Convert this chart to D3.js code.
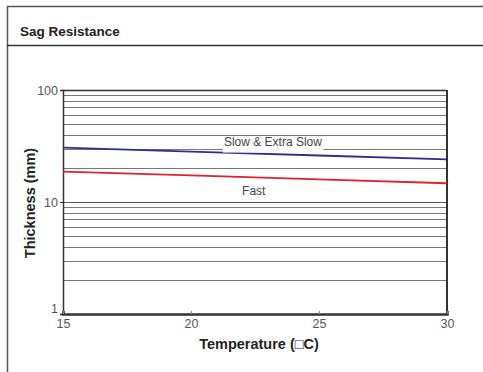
<!DOCTYPE html>
<html>
<head>
<meta charset="utf-8">
<script src="https://cdn.jsdelivr.net/npm/d3@7"></script>
<style>
body { margin: 0; background: #fff; }
svg text { font-family: "Liberation Sans", Arial, sans-serif; }
</style>
</head>
<body>
<div id="chart"></div>
<script>
// data
var temps = [15, 20, 25, 30];
var slowValues = [30.6, 28.2, 26.0, 24.0];
var fastValues = [18.7, 17.3, 15.9, 14.7];
var xTicks = [15, 20, 25, 30];
var yTicks = [1, 10, 100];
var gridValues = [2, 3, 4, 5, 6, 7, 8, 9, 20, 30, 40, 50, 60, 70, 80, 90];

var W = 483, H = 372;
var margin = {top: 90, right: 36, bottom: 57, left: 63},
    width = 447 - margin.left,
    height = 314 - margin.top;

var svg = d3.select("#chart").append("svg")
    .attr("width", W)
    .attr("height", H);

// outer frame + title bar
svg.append("path")
    .attr("d", "M7.5,372 V6.5 H483")
    .attr("fill", "none").attr("stroke", "#555").attr("stroke-width", 1.5);
svg.append("line")
    .attr("x1", 7).attr("x2", 483).attr("y1", 45.5).attr("y2", 45.5)
    .attr("stroke", "#333").attr("stroke-width", 1.5);
svg.append("text")
    .attr("x", 20).attr("y", 36)
    .attr("font-size", 13.5).attr("font-weight", "bold").attr("fill", "#222")
    .text("Sag Resistance");

var g = svg.append("g")
    .attr("transform", "translate(" + margin.left + "," + margin.top + ")");

var x = d3.scaleLinear().domain([15, 30]).range([0, width]);
var y = d3.scaleLog().domain([1, 100]).range([height, 0]);

// gridlines
g.selectAll(".grid").data(gridValues).enter().append("line")
    .attr("class", "grid")
    .attr("x1", 0).attr("x2", width)
    .attr("y1", function(d){ return Math.round(y(d)) + 0.5; })
    .attr("y2", function(d){ return Math.round(y(d)) + 0.5; })
    .attr("stroke", "#777").attr("stroke-width", 1);
g.append("line")
    .attr("x1", 0).attr("x2", width)
    .attr("y1", Math.round(y(10)) + 0.5).attr("y2", Math.round(y(10)) + 0.5)
    .attr("stroke", "#555");

// plot frame
g.append("line").attr("x1", 0).attr("x2", width).attr("y1", 0.5).attr("y2", 0.5)
    .attr("stroke", "#333").attr("stroke-width", 1.5);
g.append("line").attr("x1", width).attr("x2", width).attr("y1", 0).attr("y2", height)
    .attr("stroke", "#333").attr("stroke-width", 2);

// y axis
var yAxis = g.append("g")
    .attr("color", "#555")
    .call(d3.axisLeft(y).tickValues(yTicks).tickFormat(d3.format("d")).tickSize(3).tickPadding(2));
yAxis.select(".domain").attr("stroke", "#333").attr("stroke-width", 1.5);
yAxis.selectAll(".tick line").attr("stroke", "#333");
yAxis.selectAll("text").attr("font-size", 12.5)
    .attr("dy", function(d){ return d == 1 ? "-0.1em" : "0.32em"; });

// x axis
var xAxis = g.append("g")
    .attr("color", "#555")
    .attr("transform", "translate(0," + height + ")")
    .call(d3.axisBottom(x).tickValues(xTicks).tickSize(-3).tickPadding(5));
xAxis.select(".domain").attr("stroke", "#333").attr("stroke-width", 2.5);
xAxis.selectAll(".tick line").attr("stroke", "#888");
xAxis.selectAll("text").attr("font-size", 12.5);

// lines
var line = d3.line()
    .x(function(d, i){ return x(temps[i]); })
    .y(function(d){ return y(d); });

g.append("path").datum(slowValues)
    .attr("d", line).attr("fill", "none")
    .attr("stroke", "#2b2f8f").attr("stroke-width", 1.8);
g.append("path").datum(fastValues)
    .attr("d", line).attr("fill", "none")
    .attr("stroke", "#e0202a").attr("stroke-width", 1.8);

// series labels
var slowLbl = g.append("text")
    .attr("x", x(23.2)).attr("y", y(30) - 3)
    .attr("text-anchor", "middle")
    .attr("font-size", 12).attr("fill", "#444")
    .text("Slow & Extra Slow");
var bb = slowLbl.node().getBBox();
g.insert("rect", function(){ return slowLbl.node(); })
    .attr("x", bb.x - 1).attr("y", bb.y + 2).attr("width", bb.width + 2).attr("height", bb.height + 2)
    .attr("fill", "#fff");

g.append("text")
    .attr("x", x(22.45)).attr("y", y(11.6))
    .attr("text-anchor", "middle")
    .attr("font-size", 12).attr("fill", "#444")
    .text("Fast");

// axis titles
svg.append("text")
    .attr("x", 259).attr("y", 349)
    .attr("text-anchor", "middle")
    .attr("font-size", 14.5).attr("font-weight", "bold").attr("fill", "#222")
    .text("Temperature (\u25A1C)");
svg.append("text")
    .attr("transform", "translate(35,203) rotate(-90)")
    .attr("text-anchor", "middle")
    .attr("font-size", 14.5).attr("font-weight", "bold").attr("fill", "#222")
    .text("Thickness (mm)");
</script>
</body>
</html>
